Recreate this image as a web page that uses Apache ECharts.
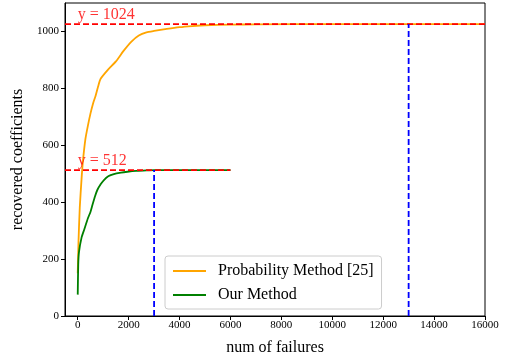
<!DOCTYPE html>
<html>
<head>
<meta charset="utf-8">
<script src="https://cdn.jsdelivr.net/npm/echarts@6/dist/echarts.min.js"></script>
<style>
  html, body { margin: 0; padding: 0; background: #fff; }
  #chart { width: 505px; height: 364px; }
</style>
</head>
<body>
<div id="chart"></div>
<script>
// values
const probX = [0, 30, 80, 150, 200, 300, 400, 500, 600, 700, 800, 900, 1200, 1500, 1800, 2100, 2400, 2700, 3000, 3500, 4000, 4500, 5000, 6000, 7000, 10000, 13000, 16000]
const probY = [150, 260, 380, 480, 540, 620, 668, 710, 745, 772, 805, 832, 865, 893, 930, 962, 984, 995, 1000, 1007, 1013, 1017, 1020, 1022, 1023, 1024, 1024, 1024]
const ourX = [0, 20, 50, 150, 250, 400, 500, 580, 680, 770, 900, 1030, 1200, 1420, 1700, 1950, 2300, 2700, 3000, 4000, 5000, 6000]
const ourY = [75, 180, 225, 275, 302, 343, 365, 390, 420, 442, 462, 477, 490, 498, 503, 506, 509, 511, 512, 512, 512, 512]

const xTicks = [0, 2000, 4000, 6000, 8000, 10000, 12000, 14000, 16000]
const yTicks = [0, 200, 400, 600, 800, 1000]

// reference lines
const line1024 = [[-500, 1024], [16000, 1024]]
const line512 = [[-500, 512], [6000, 512]]
const vline3000 = [[3000, 0], [3000, 512]]
const vline13000 = [[13000, 0], [13000, 1024]]
const notes = [{ value: [0, 1024], text: 'y = 1024' }, { value: [0, 512], text: 'y = 512' }]

const font = '"Liberation Serif", "Times New Roman", serif'
const zip = (xs, ys) => xs.map((x, i) => [x, ys[i]])

const chart = echarts.init(document.getElementById('chart'))

const dashed = (data, color) => ({
  type: 'line',
  data,
  symbol: 'none',
  silent: true,
  lineStyle: { color, width: 1.8, type: [6, 3] },
  z: 3
})

const option = {
  animation: false,
  backgroundColor: '#fff',
  textStyle: { fontFamily: font },
  grid: {
    left: 65,
    right: 20,
    top: 3,
    bottom: 48,
    containLabel: false,
    outerBoundsMode: 'none',
    show: true,
    borderColor: '#000',
    borderWidth: 1,
    backgroundColor: 'transparent'
  },
  legend: {
    left: 165,
    top: 256,
    orient: 'vertical',
    itemWidth: 33,
    itemHeight: 2,
    itemGap: 8,
    padding: [7, 8, 6, 7],
    borderColor: '#ccc',
    borderWidth: 1,
    borderRadius: 3,
    backgroundColor: 'rgba(255,255,255,0.85)',
    textStyle: { fontFamily: font, fontSize: 16, color: '#000', padding: [0, 0, 0, 7] },
    data: ['Probability Method [25]', 'Our Method']
  },
  xAxis: {
    type: 'value',
    min: -500,
    max: 16000,
    name: 'num of failures',
    nameLocation: 'middle',
    nameGap: 24,
    nameTextStyle: { fontFamily: font, fontSize: 16, color: '#000' },
    axisLine: { show: true, onZero: false, lineStyle: { color: '#000' } },
    axisTick: { show: true, length: 4, customValues: xTicks, lineStyle: { color: '#000' } },
    axisLabel: { customValues: xTicks, formatter: v => String(v), fontFamily: font, fontSize: 11, color: '#000', margin: 4 },
    splitLine: { show: false }
  },
  yAxis: {
    type: 'value',
    min: 0,
    max: 1098,
    name: 'recovered coefficients',
    nameLocation: 'middle',
    nameGap: 37,
    nameTextStyle: { fontFamily: font, fontSize: 16, color: '#000' },
    axisLine: { show: true, onZero: false, lineStyle: { color: '#000' } },
    axisTick: { show: true, length: 4, customValues: yTicks, lineStyle: { color: '#000' } },
    axisLabel: { customValues: yTicks, formatter: v => String(v), fontFamily: font, fontSize: 11, color: '#000', margin: 6 },
    splitLine: { show: false }
  },
  series: [
    {
      name: 'Probability Method [25]',
      type: 'line',
      data: zip(probX, probY),
      symbol: 'none',
      smooth: 0.2,
      color: '#FFA500',
      lineStyle: { color: '#FFA500', width: 1.8 },
      z: 2
    },
    {
      name: 'Our Method',
      type: 'line',
      data: zip(ourX, ourY),
      symbol: 'none',
      smooth: 0.2,
      color: '#008000',
      lineStyle: { color: '#008000', width: 1.8 },
      z: 2
    },
    dashed(line1024, '#FF0000'),
    dashed(line512, '#FF0000'),
    dashed(vline3000, '#0000FF'),
    dashed(vline13000, '#0000FF'),
    {
      type: 'scatter',
      symbolSize: 0,
      silent: true,
      data: notes.map(n => ({ value: n.value, text: n.text })),
      label: {
        show: true,
        position: 'top',
        align: 'left',
        distance: 1,
        formatter: p => p.data.text,
        fontFamily: font,
        fontSize: 16,
        color: '#FF0000'
      },
      z: 4
    }
  ]
}

chart.setOption(option)
</script>
</body>
</html>
